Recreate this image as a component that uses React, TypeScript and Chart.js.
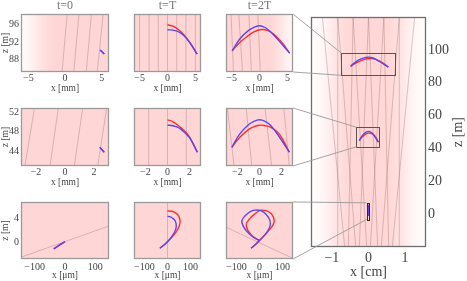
import React, { useEffect, useRef } from 'react';
import { Chart, registerables } from 'chart.js';
Chart.register(...registerables);

const W = 467;
const H = 281;
const FONT = "'Liberation Serif', 'DejaVu Serif', serif";

// ---------- labels & ticks ----------
const COLUMN_TITLES = ['t=0', 't=T', 't=2T'];
const ROW_X_TITLES = ['x [mm]', 'x [mm]', 'x [\u03bcm]'];
const Y_TITLE = 'z [m]';
const BIG_X_TITLE = 'x [cm]';
const ROW1_X_TICKS = [-5, 0, 5];
const ROW1_Z_TICKS = [88, 92, 96];
const ROW2_X_TICKS = [-2, 0, 2];
const ROW2_Z_TICKS = [44, 48, 52];
const ROW3_X_TICKS = [-100, 0, 100];
const ROW3_Z_TICKS = [0, 4];
const BIG_X_TICKS = [-1, 0, 1];
const BIG_Z_TICKS = [0, 20, 40, 60, 80, 100];

// ---------- axis ranges ----------
const ROW1_X_RANGE = [-6, 6];
const ROW1_Z_RANGE = [85.3, 98.2];
const ROW2_X_RANGE = [-3.03, 3.03];
const ROW2_Z_RANGE = [41, 52.8];
const ROW3_X_RANGE = [-145, 145];
const ROW3_Z_RANGE = [-2.8, 6.7];
const BIG_X_RANGE = [-1.57, 1.57];
const BIG_Z_RANGE = [-20, 120];

// ---------- row 1 (x in mm, z in m) ----------
const R1_T0_X = [4.8, 5.35];
const R1_T0_Z = [90.2, 89.3];
const R1_T1_X = [0, 1, 2, 3, 4, 5.3];
const R1_T1_RED_Z = [95.8, 95.5, 94.7, 93.5, 91.9, 89.3];
const R1_T1_BLUE_Z = [94.7, 94.6, 94.2, 93.3, 91.8, 89.3];
const R1_T2_X = [-4.9, -3.5, -2, -1, 0, 1, 2, 3, 4.2, 5.4];
const R1_T2_RED_Z = [90, 91.9, 93.4, 94.2, 94.7, 94.7, 94.2, 93.2, 91.6, 89.5];
const R1_T2_BLUE_Z = [90, 92.7, 94.5, 95.2, 95.6, 95.2, 94.2, 92.9, 91.2, 89.5];
const R1_T0_RAY_XB = [-0.4, 1.2, 2.9, 4.4];
const R1_T0_RAY_XT = [0.3, 1.9, 3.6, 5.2];
const R1_T1_RAY_X = [-5, -3.3, -1.65, 0, 1.65, 3.3, 5];
const R1_T2_RAY_XB = [-4.66, -3.05, -1.46, 0.14];
const R1_T2_RAY_XT = [-5.1, -3.7, -1.9, -0.3];

// ---------- row 2 (x in mm, z in m) ----------
const R2_T0_X = [2.4, 2.7];
const R2_T0_Z = [44.8, 43.8];
const R2_T1_X = [0, 0.5, 1, 1.5, 2, 2.7];
const R2_T1_RED_Z = [50.4, 50.0, 49.2, 48.2, 46.9, 43.8];
const R2_T1_BLUE_Z = [49.3, 49.2, 48.8, 47.9, 46.7, 43.8];
const R2_T2_X = [-2.5, -1.8, -1, -0.5, 0, 0.5, 1, 1.8, 2.7];
const R2_T2_RED_Z = [44.8, 46.8, 48.4, 49.0, 49.3, 49.2, 48.9, 47.5, 43.8];
const R2_T2_BLUE_Z = [44.8, 47.5, 49.4, 50.1, 50.4, 50.1, 49.3, 46.9, 43.8];
const R2_T0_RAY_XB = [-2.76, -1.03, 0.64, 2.25];
const R2_T0_RAY_XT = [-2.1, -0.46, 1.22, 2.87];
const R2_T1_RAY_X = [-1.7, 0, 1.7];
const R2_T2_RAY_XB = [-2.3, -0.7, 1.1, 2.7];
const R2_T2_RAY_XT = [-2.9, -1.2, 0.5, 2.2];

// ---------- row 3 (x in um, z in m) ----------
const R3_T0_X = [-37, 0];
const R3_T0_Z = [-1.1, 0.1];
const R3_T1_RED_X = [-33, -10, 10, 30, 45, 53, 54, 48, 35, 18, 0];
const R3_T1_RED_Z = [-1, -0.3, 0.5, 1.3, 2.2, 3.0, 3.7, 4.4, 4.9, 5.15, 5.2];
const R3_T1_BLUE_X = [-33, -10, 10, 25, 35, 38, 34, 22, 10, 0];
const R3_T1_BLUE_Z = [-1, -0.3, 0.5, 1.3, 2.1, 2.8, 3.5, 4.0, 4.25, 4.3];
const R3_T2_RED_X = [-36, -15, 0, 25, 48, 62, 62, 50, 28, 3, -24, -45, -57, -52, -35, -15, 0];
const R3_T2_RED_Z = [-1, -0.3, 0.3, 1.3, 2.3, 3.2, 4.0, 4.8, 5.25, 5.3, 4.6, 3.8, 3.0, 2.1, 1.2, 0.6, 0.3];
const R3_T2_BLUE_X = [-36, -15, 0, 20, 38, 47, 42, 25, 3, -20, -40, -62, -76, -72, -55, -30, -10, 0];
const R3_T2_BLUE_Z = [-1, -0.3, 0.3, 1.1, 2.0, 3.0, 3.9, 4.8, 5.3, 5.35, 5.1, 4.4, 3.6, 2.8, 1.8, 0.9, 0.45, 0.3];
const R3_T0_RAY_X = [-145, 145];
const R3_T0_RAY_Z = [-2.5, 2.7];
const R3_T1_RAY_X = [0, 0];
const R3_T2_RAY_X = [-145, 145];
const R3_T2_RAY_Z = [2.5, -2.7];

// ---------- big panel (x in cm, z in m) ----------
const BIG_RAY_XB = [-0.85, -0.55, -0.25, 0.05, 0.35, 0.65, -0.65, -0.35, -0.05, 0.25, 0.55, 0.85];
const BIG_RAY_XT = [-0.84, -0.42, 0.0, 0.42, 0.84, 1.26, -1.26, -0.84, -0.42, 0.0, 0.42, 0.84];
const BIG_BOX_X0 = [-0.74, -0.33, -0.05];
const BIG_BOX_X1 = [0.73, 0.29, 0.015];
const BIG_BOX_Z0 = [84.5, 41, -3.2];
const BIG_BOX_Z1 = [98, 52.9, 6.9];
const MM_TO_CM = 0.1;
const UM_TO_CM = 0.0001;

// ---------- styling ----------
const RED = '#ff2d2d';
const BLUE = '#5b45f0';
const RAY = 'rgba(150,110,110,0.45)';
const PINK = '255,214,214';
const FLAT_BG: number[][] = [[0, 1]];
const R1_T0_BG = [[-6, 0.03], [-4.5, 0.35], [-3, 0.75], [-1.5, 1], [6, 1]];
const R1_T2_BG = [[-6, 1], [2.0, 1], [3.5, 0.7], [5, 0.35], [6, 0.15]];
const BIG_BG = [[-1.57, 0.0], [-1.2, 0.25], [-0.9, 0.65], [-0.6, 0.95], [0, 1], [0.6, 0.95], [0.9, 0.65], [1.2, 0.25], [1.57, 0.0]];

type Pt = { x: number; y: number };
const zip = (xs: number[], zs: number[]): Pt[] => xs.map((x, i) => ({ x, y: zs[i] }));
const mul = (xs: number[], k: number) => xs.map((v) => v * k);
const fmt = (v: number) => (v < 0 ? '\u2212' + Math.abs(v) : String(v));

interface Panel {
  area: number[]; // l,t,r,b
  xr: number[]; zr: number[];
  xTicks: number[]; zTicks: number[] | null; yPos: 'left' | 'right';
  title?: string; xTitle: string; yTitle?: string;
  tickSize: number; titleSize: number; xH: number; yW: number; tickPadX: number;
  bg: number[][];
  rays: Pt[][];
  red: Pt[][]; blue: Pt[][];
  boxes?: number[][];
  frame: string;
}

const COL_L = [21, 113, 205];
const COL_R = [109, 201, 293];
const ROW_T = [14, 108, 202];
const ROW_B = [72, 166, 259];

const slantRays = (xb: number[], xt: number[], zr: number[]) => xb.map((x, i) => zip([x, xt[i]], zr));
const vertRays = (xs: number[], zr: number[]) => xs.map((x) => zip([x, x], zr));

function smallPanel(r: number, c: number, d: Partial<Panel>): Panel {
  const xr = [ROW1_X_RANGE, ROW2_X_RANGE, ROW3_X_RANGE][r];
  const zr = [ROW1_Z_RANGE, ROW2_Z_RANGE, ROW3_Z_RANGE][r];
  return {
    area: [COL_L[c], ROW_T[r], COL_R[c], ROW_B[r]],
    xr, zr,
    xTicks: [ROW1_X_TICKS, ROW2_X_TICKS, ROW3_X_TICKS][r],
    zTicks: c === 0 ? [ROW1_Z_TICKS, ROW2_Z_TICKS, ROW3_Z_TICKS][r] : null,
    yPos: 'left',
    title: r === 0 ? COLUMN_TITLES[c] : undefined,
    xTitle: ROW_X_TITLES[r],
    yTitle: Y_TITLE,
    tickSize: 10, titleSize: 9.5, xH: 22, yW: 21, tickPadX: r === 2 ? 2 : 0,
    bg: FLAT_BG, rays: [], red: [], blue: [], frame: '#9a9a9a',
    ...d,
  } as Panel;
}

const PANELS: Panel[] = [
  smallPanel(0, 0, { bg: R1_T0_BG, rays: slantRays(R1_T0_RAY_XB, R1_T0_RAY_XT, ROW1_Z_RANGE), red: [zip(R1_T0_X, R1_T0_Z)], blue: [zip(R1_T0_X, R1_T0_Z)] }),
  smallPanel(0, 1, { rays: vertRays(R1_T1_RAY_X, ROW1_Z_RANGE), red: [zip(R1_T1_X, R1_T1_RED_Z)], blue: [zip(R1_T1_X, R1_T1_BLUE_Z)] }),
  smallPanel(0, 2, { bg: R1_T2_BG, rays: slantRays(R1_T2_RAY_XB, R1_T2_RAY_XT, ROW1_Z_RANGE), red: [zip(R1_T2_X, R1_T2_RED_Z)], blue: [zip(R1_T2_X, R1_T2_BLUE_Z)] }),
  smallPanel(1, 0, { rays: slantRays(R2_T0_RAY_XB, R2_T0_RAY_XT, ROW2_Z_RANGE), red: [zip(R2_T0_X, R2_T0_Z)], blue: [zip(R2_T0_X, R2_T0_Z)] }),
  smallPanel(1, 1, { rays: vertRays(R2_T1_RAY_X, ROW2_Z_RANGE), red: [zip(R2_T1_X, R2_T1_RED_Z)], blue: [zip(R2_T1_X, R2_T1_BLUE_Z)] }),
  smallPanel(1, 2, { rays: slantRays(R2_T2_RAY_XB, R2_T2_RAY_XT, ROW2_Z_RANGE), red: [zip(R2_T2_X, R2_T2_RED_Z)], blue: [zip(R2_T2_X, R2_T2_BLUE_Z)] }),
  smallPanel(2, 0, { rays: [zip(R3_T0_RAY_X, R3_T0_RAY_Z)], red: [zip(R3_T0_X, R3_T0_Z)], blue: [zip(R3_T0_X, R3_T0_Z)] }),
  smallPanel(2, 1, { rays: [zip(R3_T1_RAY_X, ROW3_Z_RANGE)], red: [zip(R3_T1_RED_X, R3_T1_RED_Z)], blue: [zip(R3_T1_BLUE_X, R3_T1_BLUE_Z)] }),
  smallPanel(2, 2, { rays: [zip(R3_T2_RAY_X, R3_T2_RAY_Z)], red: [zip(R3_T2_RED_X, R3_T2_RED_Z)], blue: [zip(R3_T2_BLUE_X, R3_T2_BLUE_Z)] }),
  {
    area: [311, 17, 426, 247], xr: BIG_X_RANGE, zr: BIG_Z_RANGE,
    xTicks: BIG_X_TICKS, zTicks: BIG_Z_TICKS, yPos: 'right',
    xTitle: BIG_X_TITLE, yTitle: Y_TITLE,
    tickSize: 14, titleSize: 14, xH: 34, yW: 41, tickPadX: 3,
    bg: BIG_BG,
    rays: slantRays(BIG_RAY_XB, BIG_RAY_XT, BIG_Z_RANGE),
    red: [zip(mul(R1_T2_X, MM_TO_CM), R1_T2_RED_Z), zip(mul(R2_T2_X, MM_TO_CM), R2_T2_RED_Z), zip(mul(R3_T2_RED_X, UM_TO_CM), R3_T2_RED_Z)],
    blue: [zip(mul(R1_T2_X, MM_TO_CM), R1_T2_BLUE_Z), zip(mul(R2_T2_X, MM_TO_CM), R2_T2_BLUE_Z), zip(mul(R3_T2_BLUE_X, UM_TO_CM), R3_T2_BLUE_Z)],
    boxes: BIG_BOX_X0.map((x0, i) => [x0, BIG_BOX_X1[i], BIG_BOX_Z0[i], BIG_BOX_Z1[i]]),
    frame: '#6e6e6e',
  },
];

function makeChart(canvas: HTMLCanvasElement, p: Panel): Chart {
  const [l, t, r, b] = p.area;
  const hasY = !!p.zTicks;
  const rightY = p.yPos === 'right';
  const pad = {
    left: !rightY && hasY ? l - p.yW : l,
    right: rightY && hasY ? W - r - p.yW : W - r,
    top: t,
    bottom: H - b - p.xH,
  };
  const datasets: any[] = [];
  p.blue.forEach((d) => datasets.push({ data: d, borderColor: BLUE, borderWidth: 1.4, order: 0 }));
  p.red.forEach((d) => datasets.push({ data: d, borderColor: RED, borderWidth: 1.4, order: 1 }));
  p.rays.forEach((d) => datasets.push({ data: d, borderColor: RAY, borderWidth: 0.8, order: 2, tension: 0 }));
  datasets.forEach((ds) => { ds.showLine = true; ds.pointRadius = 0; ds.fill = false; if (ds.tension === undefined) ds.tension = 0.4; });

  const decor = {
    id: 'decor',
    beforeDatasetsDraw(chart: any) {
      const { ctx, chartArea: a, scales } = chart;
      const g = ctx.createLinearGradient(a.left, 0, a.right, 0);
      for (const [x, al] of p.bg) {
        const f = (scales.x.getPixelForValue(x) - a.left) / (a.right - a.left);
        g.addColorStop(Math.min(1, Math.max(0, f)), `rgba(${PINK},${al})`);
      }
      ctx.save();
      ctx.fillStyle = '#fff';
      ctx.fillRect(a.left, a.top, a.right - a.left, a.bottom - a.top);
      ctx.fillStyle = g;
      ctx.fillRect(a.left, a.top, a.right - a.left, a.bottom - a.top);
      ctx.restore();
    },
    afterDatasetsDraw(chart: any) {
      const { ctx, chartArea: a, scales } = chart;
      ctx.save();
      if (p.boxes) {
        p.boxes.forEach(([x0, x1, z0, z1], i) => {
          const px0 = scales.x.getPixelForValue(x0);
          const px1 = scales.x.getPixelForValue(x1);
          const py0 = scales.y.getPixelForValue(z1);
          const py1 = scales.y.getPixelForValue(z0);
          ctx.strokeStyle = i === 2 ? '#402020' : '#555';
          ctx.lineWidth = 1;
          ctx.strokeRect(Math.round(px0) + 0.5, Math.round(py0) + 0.5, Math.round(px1 - px0), Math.round(py1 - py0));
        });
      }
      ctx.strokeStyle = p.frame;
      ctx.lineWidth = 1.3;
      ctx.strokeRect(a.left + 0.5, a.top + 0.5, a.right - a.left - 1, a.bottom - a.top - 1);
      if (p.title) {
        ctx.fillStyle = '#777';
        ctx.font = `12px ${FONT}`;
        ctx.textAlign = 'center';
        ctx.textBaseline = 'middle';
        ctx.fillText(p.title, (a.left + a.right) / 2, a.top - 8);
      }
      if (rightY && p.yTitle) {
        ctx.fillStyle = '#444';
        ctx.font = `${p.titleSize}px ${FONT}`;
        ctx.textAlign = 'center';
        ctx.textBaseline = 'middle';
        ctx.translate(chart.width - p.titleSize * 0.6, (a.top + a.bottom) / 2);
        ctx.rotate(-Math.PI / 2);
        ctx.fillText(p.yTitle, 0, 0);
      }
      ctx.restore();
    },
  };

  const tickFont = { family: FONT, size: p.tickSize };
  const titleFont = { family: FONT, size: p.titleSize };
  return new Chart(canvas, {
    type: 'scatter',
    data: { datasets },
    plugins: [decor],
    options: {
      responsive: false,
      animation: false,
      devicePixelRatio: 1,
      layout: { padding: pad },
      plugins: { legend: { display: false }, tooltip: { enabled: false } },
      scales: {
        x: {
          type: 'linear', min: p.xr[0], max: p.xr[1],
          grid: { display: false, drawTicks: false }, border: { display: false },
          afterBuildTicks: (s: any) => { s.ticks = p.xTicks.map((v) => ({ value: v })); },
          ticks: { autoSkip: false, maxRotation: 0, padding: p.tickPadX, font: tickFont, color: '#444', callback: (v: any) => fmt(Number(v)) },
          title: { display: true, text: p.xTitle, font: titleFont, color: '#444', padding: 0 },
          afterFit: (s: any) => { s.height = p.xH; },
        },
        y: {
          type: 'linear', position: p.yPos, display: hasY, min: p.zr[0], max: p.zr[1],
          grid: { display: false, drawTicks: false }, border: { display: false },
          afterBuildTicks: (s: any) => { s.ticks = (p.zTicks || []).map((v) => ({ value: v })); },
          ticks: { autoSkip: false, padding: 2, font: tickFont, color: '#444', callback: (v: any) => fmt(Number(v)) },
          title: { display: !rightY, text: p.yTitle, font: titleFont, color: '#444', padding: 0 },
          afterFit: (s: any) => { s.width = p.yW; },
        },
      },
    } as any,
  });
}

function drawConnectors(canvas: HTMLCanvasElement, charts: Chart[]) {
  const ctx = canvas.getContext('2d')!;
  ctx.clearRect(0, 0, W, H);
  const big: any = charts[9];
  ctx.strokeStyle = '#9a9a9a';
  ctx.lineWidth = 0.9;
  [2, 5, 8].forEach((ci, r) => {
    const a: any = charts[ci].chartArea;
    const bx = big.scales.x.getPixelForValue(BIG_BOX_X0[r]);
    const byTop = big.scales.y.getPixelForValue(BIG_BOX_Z1[r]);
    const byBot = big.scales.y.getPixelForValue(BIG_BOX_Z0[r]);
    ctx.beginPath();
    ctx.moveTo(a.right, a.top);
    ctx.lineTo(bx, byTop);
    ctx.moveTo(a.right, a.bottom);
    ctx.lineTo(bx, byBot);
    ctx.stroke();
  });
}

export default function App() {
  const refs = useRef<(HTMLCanvasElement | null)[]>([]);
  const overlay = useRef<HTMLCanvasElement | null>(null);
  useEffect(() => {
    const charts = PANELS.map((p, i) => makeChart(refs.current[i] as HTMLCanvasElement, p));
    if (overlay.current) drawConnectors(overlay.current, charts);
    return () => charts.forEach((c) => c.destroy());
  }, []);
  const cs: React.CSSProperties = { position: 'absolute', left: 0, top: 0, width: W, height: H };
  return (
    <div style={{ position: 'fixed', left: 0, top: 0, width: W, height: H, background: '#fff', overflow: 'hidden' }}>
      {PANELS.map((_, i) => (
        <canvas key={i} ref={(el) => { refs.current[i] = el; }} width={W} height={H} style={cs} />
      ))}
      <canvas ref={overlay} width={W} height={H} style={{ ...cs, pointerEvents: 'none' }} />
    </div>
  );
}
